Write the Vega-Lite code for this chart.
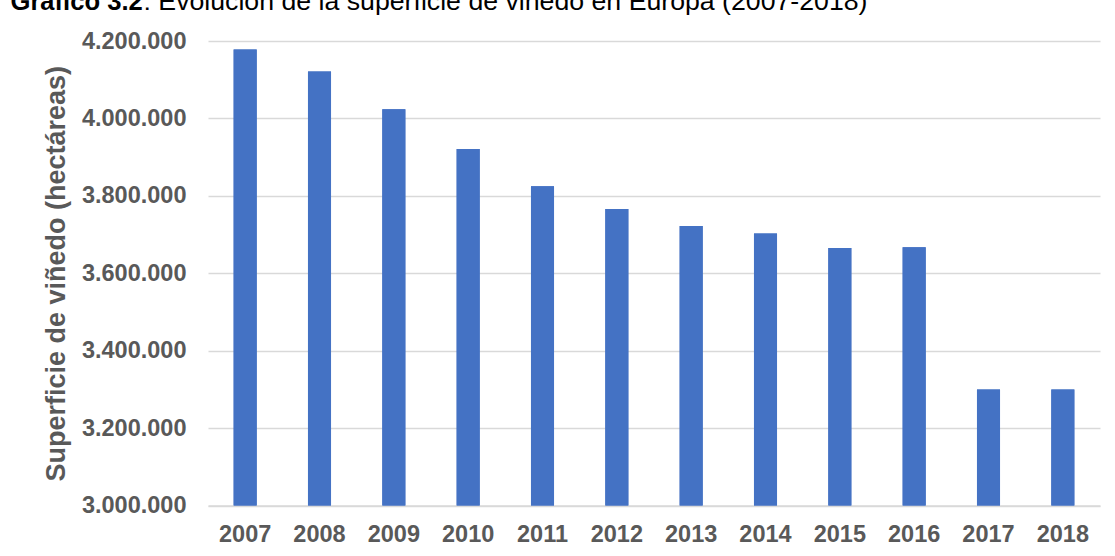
{
  "$schema": "https://vega.github.io/schema/vega-lite/v6.json",
  "width": 892,
  "height": 464.5,
  "autosize": {"type": "none"},
  "padding": {"left": 208, "top": 41, "right": 15, "bottom": 50.5},
  "background": "white",
  "data": {
    "values": [
      {"year": "2007", "ha": 4178000},
      {"year": "2008", "ha": 4121000},
      {"year": "2009", "ha": 4024000},
      {"year": "2010", "ha": 3921000},
      {"year": "2011", "ha": 3825000},
      {"year": "2012", "ha": 3766000},
      {"year": "2013", "ha": 3722000},
      {"year": "2014", "ha": 3703000},
      {"year": "2015", "ha": 3665000},
      {"year": "2016", "ha": 3667000},
      {"year": "2017", "ha": 3300000},
      {"year": "2018", "ha": 3300000}
    ]
  },
  "encoding": {
    "y": {
      "field": "ha",
      "type": "quantitative",
      "scale": {"domain": [3000000, 4200000], "nice": false, "zero": false},
      "axis": {
        "values": [3000000, 3200000, 3400000, 3600000, 3800000, 4000000, 4200000],
        "format": ",.0f",
        "labelFont": "Liberation Sans",
        "labelFontSize": 23.5,
        "labelFontWeight": "bold",
        "labelColor": "#595959",
        "labelPadding": 22,
        "ticks": false,
        "domain": false,
        "grid": true,
        "gridColor": "#D9D9D9",
        "gridWidth": 1.3,
        "title": "Superficie de viñedo (hectáreas)",
        "titleFont": "Liberation Sans",
        "titleFontSize": 27,
        "titleFontWeight": "bold",
        "titleColor": "#595959",
        "titlePadding": 11
      }
    },
    "y2": {"datum": 3000000}
  },
  "layer": [
    {
      "mark": {"type": "bar", "color": "#4472C4"},
      "encoding": {
        "x": {
          "field": "year",
          "type": "ordinal",
          "scale": {"paddingInner": 0.69, "paddingOuter": 0.345},
          "axis": {
            "orient": "bottom",
            "labelAngle": 0,
            "labelFont": "Liberation Sans",
            "labelFontSize": 23.5,
            "labelFontWeight": "bold",
            "labelColor": "#595959",
            "labelPadding": 17,
            "ticks": false,
            "domain": true,
            "domainColor": "#D9D9D9",
            "domainWidth": 1.3,
            "grid": false,
            "title": ": Evolución de la superficie de viñedo en Europa (2007-2018)",
            "titleFont": "Liberation Sans",
            "titleFontSize": 26.7,
            "titleFontWeight": "normal",
            "titleColor": "#000000",
            "titleAlign": "left",
            "titleBaseline": "alphabetic",
            "titleX": -65,
            "titleY": -496.5
          }
        }
      }
    },
    {
      "mark": {"type": "bar", "color": "#4472C4"},
      "encoding": {
        "x": {
          "field": "year",
          "type": "ordinal",
          "axis": {
            "orient": "top",
            "labels": false,
            "ticks": false,
            "domain": false,
            "grid": false,
            "title": "Gráfico 3.2",
            "titleFont": "Liberation Sans",
            "titleFontSize": 25.6,
            "titleFontWeight": "bold",
            "titleColor": "#000000",
            "titleAlign": "left",
            "titleBaseline": "alphabetic",
            "titleX": -198,
            "titleY": -32
          }
        }
      }
    }
  ],
  "resolve": {"axis": {"x": "independent"}},
  "config": {
    "view": {"stroke": null},
    "locale": {
      "number": {"decimal": ",", "thousands": ".", "grouping": [3], "currency": ["", " €"]}
    }
  }
}
